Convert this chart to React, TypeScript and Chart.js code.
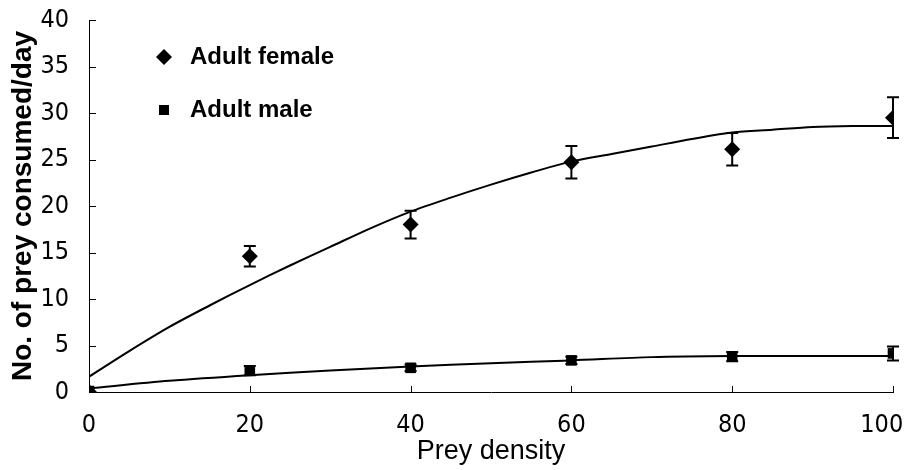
import React, { useEffect, useRef } from 'react';
import { Chart, registerables } from 'chart.js';

Chart.register(...registerables);

// ---- data ----
const preyDensity = [0, 20, 40, 60, 80, 100];
const femaleMean = [0, 14.6, 18.0, 24.7, 26.1, 29.5];
const femaleErr = [0, 1.1, 1.5, 1.75, 1.75, 2.2];
const maleMean = [0.1, 2.3, 2.6, 3.4, 3.8, 4.15];
const maleErr = [0, 0.5, 0.35, 0.4, 0.5, 0.75];

const femaleFitX = [0, 5, 10, 15, 20, 25, 30, 35, 40, 45, 50, 55, 60, 65, 70, 75, 80, 85, 90, 95, 100];
const femaleFitY = [1.65, 4.4, 7.0, 9.3, 11.5, 13.6, 15.6, 17.6, 19.4, 20.9, 22.3, 23.6, 24.8, 25.6, 26.4, 27.2, 27.9, 28.2, 28.5, 28.6, 28.6];
const maleFitX = [0, 10, 20, 30, 40, 50, 60, 70, 80, 90, 100];
const maleFitY = [0.4, 1.2, 1.8, 2.3, 2.75, 3.1, 3.4, 3.75, 3.87, 3.87, 3.87];

const xTicks = [0, 20, 40, 60, 80, 100];
const yTicks = [0, 5, 10, 15, 20, 25, 30, 35, 40];
const seriesNames = ['Adult female', 'Adult male'];
const xTitle = 'Prey density';
const yTitle = 'No. of prey consumed/day';

const TICK_FONT = '"Liberation Sans Narrow", "DejaVu Sans Condensed", "Liberation Sans", Arial, sans-serif';
const TEXT_FONT = '"Liberation Sans", Arial, sans-serif';

const errorBarPlugin = {
  id: 'errorBars',
  afterDatasetsDraw(chart: any) {
    const { ctx, scales } = chart;
    const xs = scales.x;
    const ys = scales.y;
    const draw = (means: number[], errs: number[], cap: number) => {
      ctx.save();
      ctx.strokeStyle = '#000';
      ctx.lineWidth = 2;
      means.forEach((m, i) => {
        const e = errs[i];
        if (!e) return;
        const px = xs.getPixelForValue(preyDensity[i]);
        const top = ys.getPixelForValue(m + e);
        const bot = ys.getPixelForValue(m - e);
        ctx.beginPath();
        ctx.moveTo(px, top);
        ctx.lineTo(px, bot);
        ctx.moveTo(px - cap, top);
        ctx.lineTo(px + cap, top);
        ctx.moveTo(px - cap, bot);
        ctx.lineTo(px + cap, bot);
        ctx.stroke();
      });
      ctx.restore();
    };
    draw(femaleMean, femaleErr, 6);
    draw(maleMean, maleErr, 6);
  },
};

const innerTicksPlugin = {
  id: 'innerTicks',
  afterDraw(chart: any) {
    const { ctx, scales, chartArea } = chart;
    ctx.save();
    ctx.strokeStyle = '#000';
    ctx.lineWidth = 1;
    ctx.beginPath();
    scales.y.ticks.forEach((t: any) => {
      const py = Math.round(scales.y.getPixelForValue(t.value)) + 0.5;
      ctx.moveTo(chartArea.left, py);
      ctx.lineTo(chartArea.left + 7, py);
    });
    scales.x.ticks.forEach((t: any) => {
      const px = Math.round(scales.x.getPixelForValue(t.value)) + 0.5;
      ctx.moveTo(px, chartArea.bottom);
      ctx.lineTo(px, chartArea.bottom - 6);
    });
    ctx.stroke();
    ctx.restore();
  },
};

const legendPlugin = {
  id: 'innerLegend',
  afterDraw(chart: any) {
    const { ctx, chartArea } = chart;
    const mx = chartArea.left + 75;
    const tx = chartArea.left + 101;
    const y1 = chartArea.top + 37;
    const y2 = chartArea.top + 90;
    ctx.save();
    ctx.fillStyle = '#000';
    ctx.beginPath();
    ctx.moveTo(mx - 8, y1);
    ctx.lineTo(mx, y1 - 8);
    ctx.lineTo(mx + 8, y1);
    ctx.lineTo(mx, y1 + 8);
    ctx.closePath();
    ctx.fill();
    ctx.fillRect(mx - 5, y2 - 5, 10, 10);
    ctx.font = `bold 24px ${TEXT_FONT}`;
    ctx.textBaseline = 'middle';
    ctx.textAlign = 'left';
    ctx.fillText(seriesNames[0], tx, y1);
    ctx.fillText(seriesNames[1], tx, y2);
    ctx.restore();
  },
};

export default function App() {
  const canvasRef = useRef<HTMLCanvasElement | null>(null);

  useEffect(() => {
    document.body.style.margin = '0';
    const canvas = canvasRef.current;
    if (!canvas) return;

    const toPts = (xs: number[], ys: number[]) => xs.map((x, i) => ({ x, y: ys[i] }));
    const lastX = xTicks[xTicks.length - 1];

    const chart = new Chart(canvas, {
      type: 'scatter',
      data: {
        datasets: [
          {
            label: seriesNames[0] + ' fit',
            data: toPts(femaleFitX, femaleFitY),
            showLine: true,
            borderColor: '#000',
            borderWidth: 2,
            pointRadius: 0,
            tension: 0.3,
          },
          {
            label: seriesNames[1] + ' fit',
            data: toPts(maleFitX, maleFitY),
            showLine: true,
            borderColor: '#000',
            borderWidth: 2,
            pointRadius: 0,
            tension: 0.3,
          },
          {
            label: seriesNames[1],
            data: toPts(preyDensity, maleMean),
            pointStyle: 'rect',
            pointRadius: 7.5,
            backgroundColor: '#000',
            borderColor: '#000',
            borderWidth: 0,
          },
          {
            label: seriesNames[0],
            data: toPts(preyDensity, femaleMean),
            pointStyle: 'rectRot',
            pointRadius: 8,
            backgroundColor: '#000',
            borderColor: '#000',
            borderWidth: 0,
          },
        ],
      },
      options: {
        responsive: false,
        animation: false,
        events: [],
        layout: { padding: { left: 0, right: 16, top: 20, bottom: 0 } },
        plugins: {
          legend: { display: false },
          tooltip: { enabled: false },
        },
        scales: {
          x: {
            type: 'linear',
            min: 0,
            max: 100,
            afterBuildTicks: (s: any) => {
              s.ticks = xTicks.map((v) => ({ value: v }));
            },
            afterFit: (s: any) => {
              s.height = 78;
              s.paddingLeft = 0;
              s.paddingRight = 0;
            },
            ticks: {
              color: '#000',
              font: { family: TICK_FONT, size: 25 },
              padding: 18,
              maxRotation: 0,
              autoSkip: false,
              callback: (v: any) => (v === lastX ? String(v) + '\u2002\u2002' : String(v)),
            },
            grid: { display: false, drawTicks: false },
            border: { display: true, color: '#000', width: 1 },
            title: {
              display: true,
              text: xTitle,
              color: '#000',
              font: { family: TEXT_FONT, size: 27 },
              padding: { top: 0, bottom: 2 },
            },
          },
          y: {
            type: 'linear',
            min: 0,
            max: 40,
            afterBuildTicks: (s: any) => {
              s.ticks = yTicks.map((v) => ({ value: v }));
            },
            afterFit: (s: any) => {
              s.width = 89;
              s.paddingTop = 0;
              s.paddingBottom = 0;
            },
            ticks: {
              color: '#000',
              font: { family: TICK_FONT, size: 25 },
              padding: 20,
              autoSkip: false,
            },
            grid: { display: false, drawTicks: false },
            border: { display: true, color: '#000', width: 1 },
            title: {
              display: true,
              text: yTitle,
              color: '#000',
              font: { family: TEXT_FONT, size: 28, weight: 'bold' },
              padding: { top: 6, bottom: 0 },
            },
          },
        },
      },
      plugins: [errorBarPlugin, innerTicksPlugin, legendPlugin],
    } as any);

    return () => chart.destroy();
  }, []);

  return (
    <div style={{ width: 909, height: 470, background: '#fff' }}>
      <canvas ref={canvasRef} width={909} height={470} style={{ display: 'block' }} />
    </div>
  );
}
